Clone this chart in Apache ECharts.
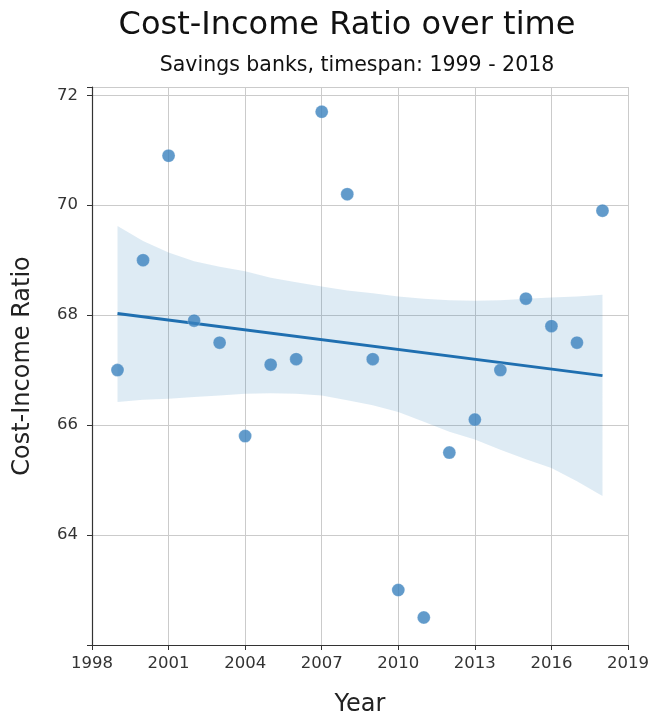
<!DOCTYPE html>
<html>
<head>
<meta charset="utf-8">
<script src="https://cdn.jsdelivr.net/npm/echarts@6/dist/echarts.min.js"></script>
<style>
  html, body { margin: 0; padding: 0; background: #fff; }
  #chart { width: 652px; height: 717px; }
</style>
</head>
<body>
<div id="chart"></div>
<script>
// Cost-income ratio of savings banks per year
const years = [1999, 2000, 2001, 2002, 2003, 2004, 2005, 2006, 2007, 2008,
               2009, 2010, 2011, 2012, 2013, 2014, 2015, 2016, 2017, 2018];
const ratio = [67.0, 69.0, 70.9, 67.9, 67.5, 65.8, 67.1, 67.2, 71.7, 70.2,
               67.2, 63.0, 62.5, 65.5, 66.1, 67.0, 68.3, 67.8, 67.5, 69.9];

// Linear trend (start and end of the fitted line)
const trendYears = [1999, 2018];
const trendValues = [68.03, 66.9];

// 95% confidence band around the trend, per year
const bandUpper = [69.62, 69.35, 69.14, 68.98, 68.88, 68.80, 68.68, 68.60, 68.52, 68.45,
                   68.40, 68.34, 68.30, 68.27, 68.26, 68.27, 68.30, 68.32, 68.34, 68.37];
const bandLower = [66.42, 66.46, 66.48, 66.51, 66.54, 66.57, 66.58, 66.57, 66.54, 66.45,
                   66.36, 66.24, 66.06, 65.88, 65.74, 65.55, 65.38, 65.22, 64.98, 64.71];

// Axis ticks
const xTicks = [1998, 2001, 2004, 2007, 2010, 2013, 2016, 2019];
const yTicks = [64, 66, 68, 70, 72];

const chart = echarts.init(document.getElementById('chart'));

const font = 'DejaVu Sans';
const axisColor = '#333333';
const gridColor = '#cbcbcb';

chart.setOption({
  animation: false,
  backgroundColor: '#ffffff',
  title: [
    {
      text: 'Cost-Income Ratio over time',
      left: 342, top: 5, textAlign: 'center',
      textStyle: { fontFamily: font, fontSize: 32, fontWeight: 'normal', color: '#111' }
    },
    {
      text: 'Savings banks, timespan: 1999 - 2018',
      left: 352, top: 50, textAlign: 'center',
      textStyle: { fontFamily: font, fontSize: 20.5, fontWeight: 'normal', color: '#111' }
    }
  ],
  grid: { left: 92, right: 24, top: 87, bottom: 72, outerBoundsMode: 'none' },
  xAxis: {
    type: 'value',
    min: xTicks[0],
    max: xTicks[xTicks.length - 1],
    interval: 3,
    name: 'Year',
    nameLocation: 'middle',
    nameGap: 48,
    nameTextStyle: { fontFamily: font, fontSize: 24, color: '#222' },
    axisLine: { show: true, onZero: false, lineStyle: { color: axisColor, width: 1.2 } },
    axisTick: { show: true, length: 5, lineStyle: { color: axisColor } },
    axisLabel: { fontFamily: font, fontSize: 16.5, color: '#333', margin: 10,
                 formatter: v => xTicks.includes(v) ? String(v) : '' },
    splitLine: { show: true, lineStyle: { color: gridColor, width: 1 } }
  },
  yAxis: {
    type: 'value',
    min: 62,
    max: 72.15,
    interval: 2,
    name: 'Cost-Income Ratio',
    nameLocation: 'middle',
    nameGap: 57,
    nameTextStyle: { fontFamily: font, fontSize: 24, color: '#222' },
    axisLine: { show: true, onZero: false, lineStyle: { color: axisColor, width: 1.2 } },
    axisTick: { show: true, length: 5, lineStyle: { color: axisColor } },
    axisLabel: { fontFamily: font, fontSize: 16.5, color: '#333', margin: 14,
                 formatter: v => yTicks.includes(v) ? String(v) : '' },
    splitLine: { show: true, lineStyle: { color: gridColor, width: 1 } }
  },
  series: [
    {
      // confidence band drawn as one polygon through the axis scales
      type: 'custom',
      silent: true,
      z: 1,
      data: [0],
      renderItem: function (params, api) {
        const pts = [];
        for (let i = 0; i < years.length; i++) pts.push(api.coord([years[i], bandUpper[i]]));
        for (let i = years.length - 1; i >= 0; i--) pts.push(api.coord([years[i], bandLower[i]]));
        return {
          type: 'polygon',
          shape: { points: pts, smooth: 0 },
          style: { fill: 'rgba(31,119,180,0.15)', stroke: null }
        };
      }
    },
    {
      type: 'line',
      z: 3,
      data: trendYears.map((y, i) => [y, trendValues[i]]),
      showSymbol: false,
      lineStyle: { color: '#1f6fb0', width: 3 }
    },
    {
      type: 'scatter',
      z: 4,
      data: years.map((y, i) => [y, ratio[i]]),
      symbolSize: 13,
      itemStyle: { color: '#3b82be', borderColor: 'rgba(255,255,255,0.3)', borderWidth: 1 }
    }
  ]
});
</script>
</body>
</html>
